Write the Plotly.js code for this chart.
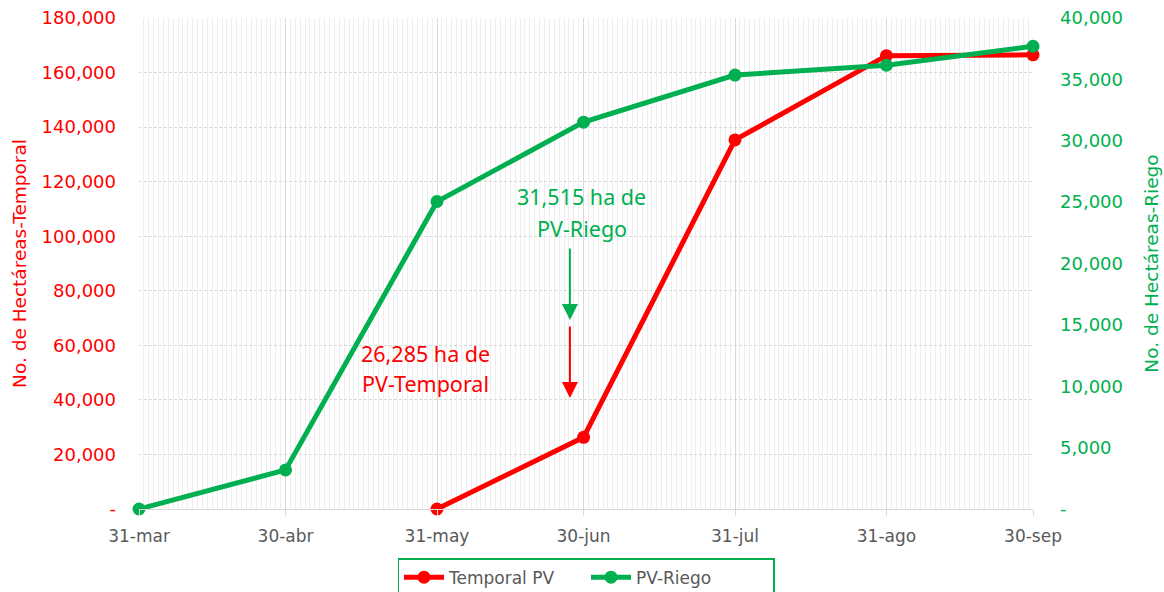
<!DOCTYPE html>
<html>
<head>
<meta charset="utf-8">
<script src="https://cdn.plot.ly/plotly-3.0.1.min.js"></script>
<style>html,body{margin:0;padding:0;background:#fff;}#chart{width:1164px;height:592px;}</style>
</head>
<body>
<div id="chart"></div>
<script>
// Data
const tickDates = ['2021-03-31','2021-04-30','2021-05-31','2021-06-30','2021-07-31','2021-08-31','2021-09-30'];
const tickLabels = ['31-mar','30-abr','31-may','30-jun','31-jul','31-ago','30-sep'];
const temporalDates = ['2021-05-31','2021-06-30','2021-07-31','2021-08-31','2021-09-30'];
const temporalValues = [0, 26285, 135300, 166200, 166500];
const riegoDates = ['2021-03-31','2021-04-30','2021-05-31','2021-06-30','2021-07-31','2021-08-31','2021-09-30'];
const riegoValues = [0, 3180, 25050, 31515, 35350, 36150, 37700];
const leftTicks = [0,20000,40000,60000,80000,100000,120000,140000,160000,180000];
const rightTicks = [0,5000,10000,15000,20000,25000,30000,35000,40000];

const RED = '#FF0000', GREEN = '#00B050', GRAY = '#595959', GRID = '#D9D9D9';
const fmt = v => v === 0 ? '-' : v.toLocaleString('en-US');
const FONT = 'DejaVu Sans';

const traces = [
  {x: temporalDates, y: temporalValues, name: 'Temporal PV', type: 'scatter', mode: 'lines+markers',
   line: {color: RED, width: 5}, marker: {color: RED, size: 13}, cliponaxis: false, yaxis: 'y'},
  {x: riegoDates, y: riegoValues, name: 'PV-Riego', type: 'scatter', mode: 'lines+markers',
   line: {color: GREEN, width: 5}, marker: {color: GREEN, size: 13}, cliponaxis: false, yaxis: 'y2'}
];

const annFont = c => ({family: 'Noto Sans', size: 21.5, color: c});
const layout = {
  width: 1164, height: 592,
  margin: {l: 139, r: 131, t: 18, b: 83, autoexpand: false},
  paper_bgcolor: '#fff', plot_bgcolor: '#fff',
  showlegend: true,
  xaxis: {
    type: 'date', range: [tickDates[0], tickDates[tickDates.length-1]],
    tickvals: tickDates, ticktext: tickLabels,
    tickfont: {family: FONT, size: 17, color: GRAY},
    showgrid: true, gridcolor: GRID, gridwidth: 1,
    ticks: 'outside', ticklen: 6, tickcolor: GRID,
    showline: true, linecolor: GRID, linewidth: 1,
    ticklabelstandoff: 6,
    zeroline: false,
    minor: {dtick: 86400000, tick0: '2021-03-31', showgrid: true, gridcolor: '#EEEEEE', gridwidth: 1}
  },
  yaxis: {
    range: [0, 180000], tickvals: leftTicks, ticktext: leftTicks.map(fmt),
    tickfont: {family: FONT, size: 18, color: RED},
    showgrid: true, gridcolor: GRID, griddash: '3px,2px', gridwidth: 1,
    zeroline: false, showline: false, ticks: '',
    ticklabelstandoff: 22,
    title: {text: 'No. de Hectáreas-Temporal', font: {family: FONT, size: 18.5, color: RED}, standoff: 10}
  },
  yaxis2: {
    range: [0, 40000], tickvals: rightTicks, ticktext: rightTicks.map(fmt),
    overlaying: 'y', side: 'right',
    tickfont: {family: FONT, size: 18, color: GREEN},
    showgrid: false, zeroline: false, showline: false, ticks: '',
    ticklabelstandoff: 26,
    title: {text: 'No. de Hectáreas-Riego', font: {family: FONT, size: 18.5, color: GREEN}, standoff: 23}
  },
  legend: {
    orientation: 'h', x: 0.5, xanchor: 'center', y: -0.1, yanchor: 'top',
    bordercolor: GREEN, borderwidth: 1.5, bgcolor: '#fff',
    font: {family: FONT, size: 17, color: GRAY},
    entrywidth: 132, itemwidth: 40
  },
  annotations: [
    {xref: 'paper', yref: 'paper', x: 0.4955, y: 0.636, xanchor: 'center', yanchor: 'middle',
     text: '31,515 ha de', showarrow: false, font: annFont(GREEN)},
    {xref: 'paper', yref: 'paper', x: 0.4955, y: 0.571, xanchor: 'center', yanchor: 'middle',
     text: 'PV-Riego', showarrow: false, font: annFont(GREEN)},
    {xref: 'paper', yref: 'paper', x: 0.321, y: 0.316, xanchor: 'center', yanchor: 'middle',
     text: '26,285 ha de', showarrow: false, font: annFont(RED)},
    {xref: 'paper', yref: 'paper', x: 0.321, y: 0.255, xanchor: 'center', yanchor: 'middle',
     text: 'PV-Temporal', showarrow: false, font: annFont(RED)},
    {xref: 'paper', yref: 'paper', x: 0.482, y: 0.385, text: '', showarrow: true, ax: 0, ay: -73,
     arrowhead: 2, arrowsize: 1.6, arrowwidth: 2, arrowcolor: GREEN},
    {xref: 'paper', yref: 'paper', x: 0.482, y: 0.226, text: '', showarrow: true, ax: 0, ay: -73,
     arrowhead: 2, arrowsize: 1.6, arrowwidth: 2, arrowcolor: RED}
  ]
};

Plotly.newPlot('chart', traces, layout, {displayModeBar: false, staticPlot: true});
</script>
</body>
</html>
